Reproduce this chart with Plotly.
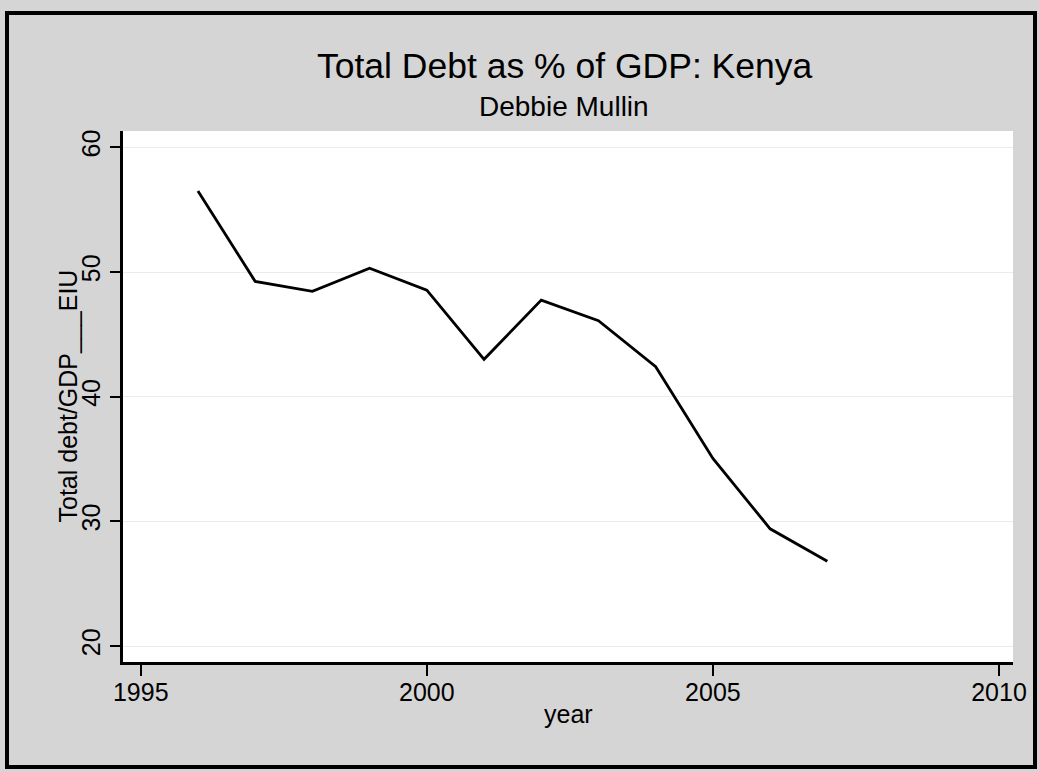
import plotly.graph_objects as go

years = [1996, 1997, 1998, 1999, 2000, 2001, 2002, 2003, 2004, 2005, 2006, 2007]
debt_gdp = [56.5, 49.25, 48.45, 50.3, 48.55, 43.0, 47.75, 46.1, 42.4, 35.05, 29.4, 26.8]
x_ticks = [1995, 2000, 2005, 2010]
y_ticks = [20, 30, 40, 50, 60]

W, H = 1039, 772
ml, mr, mt, mb = 123, 26, 131, 110
pw, ph = W - ml - mr, H - mt - mb
font = "Liberation Sans, Arial, Helvetica, sans-serif"

fig = go.Figure()
fig.add_trace(go.Scatter(x=years, y=debt_gdp, mode="lines",
                         line=dict(color="black", width=2.8), showlegend=False))

fig.update_layout(
    width=W, height=H,
    margin=dict(l=ml, r=mr, t=mt, b=mb),
    paper_bgcolor="#d5d5d5",
    plot_bgcolor="white",
    font=dict(family=font, color="black"),
    xaxis=dict(range=[1994.69, 2010.245], tickvals=x_ticks, showgrid=False,
               zeroline=False, showline=True, linecolor="black", linewidth=2.5,
               ticks="outside", ticklen=11, tickwidth=2, tickcolor="black",
               ticklabelstandoff=-5,
               tickfont=dict(size=25, family=font)),
    yaxis=dict(range=[18.72, 61.31], tickvals=y_ticks, showgrid=True,
               gridcolor="#ebebeb", gridwidth=1, zeroline=False,
               showline=True, linecolor="black", linewidth=2.5,
               ticks="outside", ticklen=10, tickwidth=2, tickcolor="black",
               tickangle=-90, tickfont=dict(size=25, family=font)),
)

# title and subtitle, centred over the plot region
fig.add_annotation(text="Total Debt as % of GDP: Kenya", xref="paper", yref="paper",
                   x=(565 - ml) / pw, y=1 + (mt - 66) / ph,
                   xanchor="center", yanchor="middle", showarrow=False,
                   font=dict(size=35.5, family=font, color="black"))
fig.add_annotation(text="Debbie Mullin", xref="paper", yref="paper",
                   x=(564 - ml) / pw, y=1 + (mt - 107) / ph,
                   xanchor="center", yanchor="middle", showarrow=False,
                   font=dict(size=28, family=font, color="black"))

# axis titles
fig.add_annotation(text="year", xref="paper", yref="paper",
                   x=(568 - ml) / pw, y=-(714 - (H - mb)) / ph,
                   xanchor="center", yanchor="middle", showarrow=False,
                   font=dict(size=25, family=font, color="black"))
fig.add_annotation(text="Total debt/GDP___EIU", xref="paper", yref="paper",
                   x=(67 - ml) / pw, y=0.5, textangle=-90,
                   xanchor="center", yanchor="middle", showarrow=False,
                   font=dict(size=25, family=font, color="black"))

# outer frame of the page
fig.add_shape(type="rect", xref="paper", yref="paper",
              x0=(7 - ml) / pw, x1=(1035 - ml) / pw,
              y0=-(767 - (H - mb)) / ph, y1=1 + (mt - 13) / ph,
              line=dict(color="black", width=4), fillcolor="rgba(0,0,0,0)", layer="below")

fig.write_html("out.html", config={"displayModeBar": False},
               post_script="document.body.style.margin='0px';")
